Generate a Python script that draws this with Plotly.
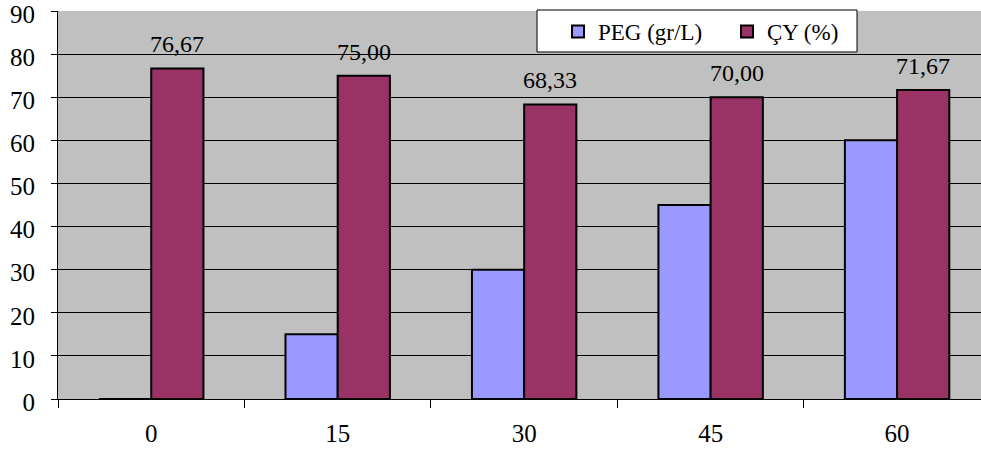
import plotly.graph_objects as go

categories = ["0", "15", "30", "45", "60"]
peg_values = [0, 15, 30, 45, 60]
cy_values = [76.67, 75.00, 68.33, 70.00, 71.67]
cy_labels = ["76,67", "75,00", "68,33", "70,00", "71,67"]

font_family = "Liberation Serif"

W, H = 981, 457
ML, MT, MB = 58, 11, 58
PW, PH = W - ML, H - MT - MB


def px_x(page_x):
    return (page_x - ML) / PW


def px_y(page_y):
    return (H - MB - page_y) / PH


fig = go.Figure()
fig.add_trace(go.Bar(
    x=categories, y=peg_values, name="PEG (gr/L)",
    marker=dict(color="#9999FF", line=dict(color="black", width=2)),
))
fig.add_trace(go.Bar(
    x=categories, y=cy_values, name="ÇY (%)",
    marker=dict(color="#993366", line=dict(color="black", width=2)),
))

# value labels above the ÇY bars (x given as category index)
for i, (val, lab) in enumerate(zip(cy_values, cy_labels)):
    fig.add_annotation(
        x=i, y=val, text=lab, showarrow=False,
        xanchor="center", yanchor="bottom", xshift=26, yshift=9,
        font=dict(size=24, color="black", family=font_family),
    )

# legend frame
fig.add_shape(
    type="rect", xref="paper", yref="paper",
    x0=px_x(537), x1=px_x(857), y0=px_y(52), y1=px_y(10),
    fillcolor="white", line=dict(color="black", width=1), layer="above",
)

fig.update_layout(
    width=W, height=H,
    margin=dict(l=ML, r=0, t=MT, b=MB, autoexpand=False),
    paper_bgcolor="white", plot_bgcolor="#C0C0C0",
    barmode="group", bargap=0.44, bargroupgap=0,
    font=dict(family=font_family, size=25, color="black"),
    showlegend=True,
    legend=dict(
        orientation="h", x=px_x(558), y=px_y(10), xanchor="left", yanchor="top",
        bgcolor="rgba(0,0,0,0)", borderwidth=0,
        font=dict(size=23, family=font_family),
        entrywidth=124, entrywidthmode="pixels",
    ),
)
fig.update_xaxes(
    type="category", range=[-0.5, 4.45], automargin=False,
    showline=True, linecolor="black", linewidth=1,
    ticks="outside", tickson="boundaries", ticklen=8, tickcolor="black",
    ticklabelstandoff=12,
    tickfont=dict(size=25, family=font_family),
    showgrid=False,
)
fig.update_yaxes(
    range=[0, 90], dtick=10, automargin=False,
    showline=True, linecolor="black", linewidth=1,
    ticks="outside", ticklen=6, tickcolor="black",
    showgrid=True, gridcolor="black", gridwidth=1,
    tickfont=dict(size=25, family=font_family),
    ticklabelstandoff=11, ticklabelshift=3,
    zeroline=False, ticklabeloverflow="allow",
)

fig.write_html(
    "out.html",
    config={"displayModeBar": False},
    post_script="document.body.style.margin='0';document.body.style.overflow='hidden';",
)
